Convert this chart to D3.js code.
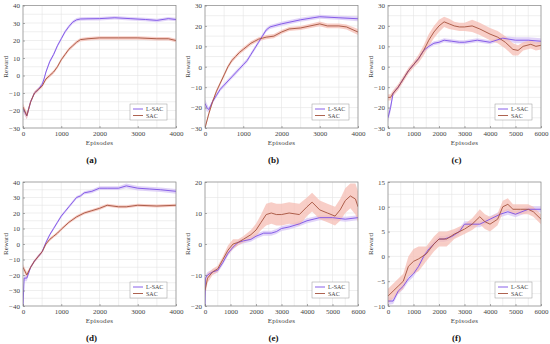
<!DOCTYPE html>
<html>
<head>
<meta charset="utf-8">
<script src="https://d3js.org/d3.v7.min.js"></script>
<style>
  body { margin: 0; background: #fff; }
  svg { display: block; }
  text { font-family: "Liberation Serif", "DejaVu Serif", serif; }
</style>
</head>
<body>
<script>
// episodes / reward
const seriesNames = ['L-SAC', 'SAC'];
const panelLabels = ['(a)', '(b)', '(c)', '(d)', '(e)', '(f)'];

// (a)
const aLx = [0, 100, 200, 300, 400, 500, 550, 600, 700, 800, 900, 1000, 1100, 1200, 1300, 1400, 1500, 1700, 2000, 2400, 2800, 3200, 3500, 3800, 4000];
const aL  = [-19, -23, -15, -10, -8, -5, -2, 2, 8, 12, 17, 21, 25, 28, 30.5, 31.8, 32.3, 32.4, 32.5, 33, 32.5, 32, 31.5, 32.5, 32];
const aLs = [2, 2, 1, 1, 1, 1, 1, 1, 1, 1, 1, 1, 1, 1, 1, 1, 1, 1, 1, 1, 1, 1, 1, 1, 1];
const aSx = [0, 100, 200, 300, 400, 500, 600, 700, 800, 900, 1000, 1100, 1200, 1300, 1400, 1500, 1700, 2000, 2500, 3000, 3500, 3800, 4000];
const aS  = [-18, -23, -15, -10, -8, -6, -2, 0, 2, 5, 9, 12, 15, 17, 19, 20.5, 21, 21.5, 21.5, 21.5, 21, 21, 20];
const aSs = [2, 2, 1, 1, 1, 1, 1, 1, 1, 1, 1, 1, 1, 1, 1, 1, 1, 1, 1, 1, 1, 1, 1];

// (b)
const bLx = [0, 50, 100, 200, 300, 400, 500, 600, 700, 800, 900, 1000, 1100, 1200, 1300, 1400, 1500, 1600, 1700, 1800, 2000, 2500, 3000, 3500, 4000];
const bL  = [-18, -20, -21, -17, -14, -11, -9, -7, -5, -3, -1, 1, 3, 6, 9, 12, 15, 18, 19.5, 20, 21, 23, 24.5, 24, 23.5];
const bLs = [2, 2, 1, 1, 1, 1, 1, 1, 1, 1, 1, 1, 1, 1, 1, 1, 1, 1, 1, 1, 1, 1, 1, 1, 1.2];
const bSx = [0, 100, 200, 300, 400, 500, 600, 700, 800, 900, 1000, 1100, 1200, 1300, 1400, 1500, 1600, 1800, 2000, 2200, 2500, 3000, 3200, 3500, 3700, 4000];
const bS  = [-30, -23, -17, -12, -8, -4, 0, 3, 5, 7, 8.5, 10, 11.5, 12.5, 13.5, 14, 14.5, 15, 17, 18.5, 19, 21, 20, 20, 19.5, 17];
const bSs = [1, 1, 1, 1, 1, 1, 1, 1, 1, 1, 1, 1, 1, 1, 1, 1, 1, 1, 1, 1, 1, 1.2, 1.2, 1.2, 1.2, 1.5];

// (c)
const cLx = [0, 100, 200, 400, 600, 800, 1000, 1200, 1400, 1600, 1800, 2000, 2200, 2500, 2800, 3000, 3500, 4000, 4500, 5000, 5500, 6000];
const cL  = [-25, -20, -13, -10, -6, -2, 1, 4, 8, 10, 11.5, 12, 13, 12.5, 12, 12, 13, 12, 14, 13, 13, 12.5];
const cLs = [2, 2, 1, 1, 1, 1, 1, 1, 1, 1, 1, 1, 1, 1, 1, 1, 1, 1, 1, 1.5, 1.5, 1.5];
const cSx = [0, 100, 200, 400, 600, 800, 1000, 1200, 1400, 1600, 1800, 2000, 2200, 2400, 2600, 2800, 3000, 3300, 3600, 4000, 4300, 4600, 4900, 5100, 5300, 5600, 5800, 6000];
const cS  = [-15, -15, -13, -10, -6, -2, 1, 4, 8, 13, 17, 20, 22, 21, 20, 19.5, 19.5, 20, 18.5, 16, 14.5, 12, 8.5, 8, 10, 11, 10, 10.5];
const cSs = [1.5, 1.5, 1.5, 1.5, 1.5, 1.5, 1.5, 2, 2.5, 3, 3, 3, 2.5, 2.5, 2, 2, 2, 3, 3, 3, 3, 3, 3, 2.5, 2, 2, 2, 2];

// (d)
const dLx = [0, 30, 100, 200, 300, 400, 500, 600, 700, 800, 900, 1000, 1100, 1200, 1300, 1400, 1500, 1600, 1800, 2000, 2200, 2500, 2700, 3000, 3300, 3600, 4000];
const dL  = [-40, -22, -22, -15, -11, -8, -5, 1, 6, 10, 14, 18, 21, 24, 27, 30, 31, 33, 34, 36, 36, 36, 37.5, 36, 35.5, 35, 34];
const dLs = [3, 2, 2, 1, 1, 1, 1, 1, 1, 1, 1, 1, 1, 1, 1, 1, 1, 1, 1.2, 1.2, 1.2, 1.2, 1.5, 1.5, 1.5, 1.5, 1.5];
const dSx = [0, 100, 200, 300, 400, 500, 600, 700, 800, 900, 1000, 1200, 1400, 1600, 1800, 2000, 2200, 2500, 2700, 3000, 3500, 4000];
const dS  = [-15, -20, -15, -11, -8, -5, 0, 3, 5, 7, 9.5, 14, 17.5, 20, 21.5, 23, 25, 24, 24, 25, 24.5, 25];
const dSs = [2, 2, 1, 1, 1, 1, 1, 1, 1, 1, 1, 1, 1, 1, 1, 1, 1, 1, 1, 1, 1, 1];

// (e)
const eLx = [0, 20, 100, 300, 500, 700, 900, 1100, 1300, 1500, 1800, 2000, 2300, 2600, 2800, 3000, 3300, 3700, 4000, 4500, 5000, 5500, 6000];
const eL  = [-20, -11, -10, -9, -8.5, -6, -3, -1, 0.5, 1, 1.5, 2.5, 3.5, 3.5, 4, 5, 5.5, 6.5, 7.5, 8.5, 8.5, 8, 8.5];
const eLs = [1, 1, 1, 0.8, 0.8, 0.8, 0.8, 0.8, 0.8, 0.8, 0.8, 0.8, 0.8, 0.8, 0.8, 0.8, 0.8, 0.8, 0.8, 0.8, 0.8, 0.8, 0.8];
const eSx = [0, 100, 300, 500, 700, 900, 1100, 1300, 1500, 1800, 2000, 2200, 2400, 2600, 2800, 3000, 3300, 3700, 4000, 4200, 4500, 4800, 5100, 5300, 5500, 5700, 5900, 6000];
const eS  = [-15, -11, -9, -8, -5, -2, 0, 0.5, 1.5, 3, 4.5, 7, 9.5, 10, 9.5, 9.5, 10, 9.5, 12, 13.5, 11, 10, 9, 11, 14, 15.5, 14.5, 12];
const eSs = [2, 1.5, 1, 1, 1, 1.5, 1.5, 1, 1, 1.5, 2, 2.5, 3.5, 3.5, 3.5, 3.5, 3.5, 3.5, 3, 3, 3, 3, 3, 3.5, 4, 4, 5, 5];

// (f)
const fLx = [0, 200, 400, 600, 800, 1000, 1200, 1400, 1600, 1800, 2000, 2200, 2500, 2800, 3000, 3300, 3600, 4000, 4400, 4700, 5000, 5500, 6000];
const fL  = [-9, -9, -7, -6, -4.5, -3.5, -2, 0, 1.5, 2.5, 3.5, 3.5, 4, 5, 6.5, 6.5, 6.5, 7.5, 8.5, 9, 8.5, 9.5, 9.5];
const fLs = [0.8, 0.6, 0.6, 0.6, 0.6, 0.6, 0.6, 0.6, 0.6, 0.6, 0.6, 0.6, 0.6, 0.6, 0.6, 0.6, 0.6, 0.6, 0.6, 0.6, 0.6, 0.6, 0.6];
const fSx = [0, 200, 400, 600, 800, 1000, 1200, 1500, 1800, 2000, 2300, 2600, 3000, 3300, 3600, 3800, 4000, 4300, 4500, 4700, 4900, 5200, 5500, 5700, 6000];
const fS  = [-8, -7, -6, -5, -2, -1, -0.5, 0.5, 2.5, 3.5, 3.5, 4.5, 5.5, 6.5, 8, 7, 6.5, 7.5, 10, 10.5, 9.5, 9.5, 9.5, 9, 7.5];
const fSs = [1.5, 1.5, 1.5, 1.5, 2, 2.5, 2.5, 1.5, 1.5, 1.5, 1.5, 1, 1, 1.2, 1.5, 1.5, 1.5, 1.2, 1.2, 1.2, 1, 1, 1, 1, 1];

const xMax = [4000, 4000, 6000, 4000, 6000, 6000];
const yTicks = [
  [-30, -20, -10, 0, 10, 20, 30, 40],
  [-30, -20, -10, 0, 10, 20, 30],
  [-30, -20, -10, 0, 10, 20, 30],
  [-40, -30, -20, -10, 0, 10, 20, 30, 40],
  [-20, -10, 0, 10, 20],
  [-10, -5, 0, 5, 10, 15]
];

const panelData = [
  [[aLx, aL, aLs], [aSx, aS, aSs]],
  [[bLx, bL, bLs], [bSx, bS, bSs]],
  [[cLx, cL, cLs], [cSx, cS, cSs]],
  [[dLx, dL, dLs], [dSx, dS, dSs]],
  [[eLx, eL, eLs], [eSx, eS, eSs]],
  [[fLx, fL, fLs], [fSx, fS, fSs]]
];

const lineColor = ['#7b4fe6', '#a5513c'];
const bandColor = ['#d7c6f6', '#f6bdb4'];

const svg = d3.select('body').append('svg').attr('width', 550).attr('height', 344);

const lefts = [23, 205, 388];
const rows = [{top: 5.5, bottom: 128}, {top: 182, bottom: 306}];
const pw = 153;

panelData.forEach((series, i) => {
  const col = i % 3, row = Math.floor(i / 3);
  const x0 = lefts[col], y0 = rows[row].top, h = rows[row].bottom - rows[row].top;
  const g = svg.append('g').attr('transform', `translate(${x0},${y0})`);
  const yt = yTicks[i];
  const step = (yt[1] - yt[0]);
  const x = d3.scaleLinear().domain([0, xMax[i]]).range([0, pw]);
  const y = d3.scaleLinear().domain([yt[0], yt[yt.length - 1]]).range([h, 0]);
  const xt = d3.range(0, xMax[i] + 1, 1000);

  // grid at every half-tick
  const gx = d3.range(0, xMax[i] + 1, 500);
  const gy = d3.range(yt[0], yt[yt.length - 1] + 0.001, step / 2);
  g.selectAll('.gx').data(gx).join('line')
    .attr('x1', d => x(d)).attr('x2', d => x(d)).attr('y1', 0).attr('y2', h)
    .attr('stroke', '#e4e4e4').attr('stroke-width', 0.6);
  g.selectAll('.gy').data(gy).join('line')
    .attr('y1', d => y(d)).attr('y2', d => y(d)).attr('x1', 0).attr('x2', pw)
    .attr('stroke', '#e4e4e4').attr('stroke-width', 0.6);

  const defs = svg.append('defs');
  defs.append('clipPath').attr('id', 'clip' + i).append('rect').attr('width', pw).attr('height', h);
  const plot = g.append('g').attr('clip-path', `url(#clip${i})`);

  series.forEach(([xs, ys, ss], k) => {
    const pts = xs.map((v, j) => ({x: v, y: ys[j], s: ss[j]}));
    plot.append('path').datum(pts)
      .attr('d', d3.area().x(d => x(d.x)).y0(d => y(d.y - d.s)).y1(d => y(d.y + d.s)))
      .attr('fill', bandColor[k]).attr('opacity', 0.75);
  });
  series.forEach(([xs, ys], k) => {
    const pts = xs.map((v, j) => ({x: v, y: ys[j]}));
    plot.append('path').datum(pts)
      .attr('d', d3.line().x(d => x(d.x)).y(d => y(d.y)))
      .attr('fill', 'none').attr('stroke', lineColor[k]).attr('stroke-width', 0.9);
  });

  // frame
  g.append('rect').attr('width', pw).attr('height', h)
    .attr('fill', 'none').attr('stroke', '#8a8a8a').attr('stroke-width', 0.7);

  // axes
  const xa = g.append('g').attr('transform', `translate(0,${h})`)
    .call(d3.axisBottom(x).tickValues(xt).tickSize(-2).tickPadding(3).tickFormat(d3.format('d')));
  const ya = g.append('g')
    .call(d3.axisLeft(y).tickValues(yt).tickSize(-2).tickPadding(3));
  [xa, ya].forEach(a => {
    a.select('.domain').remove();
    a.selectAll('line').attr('stroke', '#777').attr('stroke-width', 0.6);
    a.selectAll('text').attr('font-size', 7).attr('fill', '#444')
      .style('font-family', '"Liberation Serif", serif');
  });

  g.append('text').attr('transform', `translate(-15,${h / 2}) rotate(-90)`)
    .attr('text-anchor', 'middle').attr('font-size', 7).attr('fill', '#444').text('Reward');
  g.append('text').attr('x', pw / 2).attr('y', h + 17)
    .attr('text-anchor', 'middle').attr('font-size', 7).attr('fill', '#444')
    .attr('letter-spacing', 0.3).text('Episodes');
  g.append('text').attr('x', pw / 2 - 8).attr('y', h + 35)
    .attr('text-anchor', 'middle').attr('font-size', 9).attr('font-weight', 'bold')
    .attr('fill', '#111').text(panelLabels[i]);

  // legend
  const lg = g.append('g').attr('transform', `translate(${pw - 46},${h - 24})`);
  lg.append('rect').attr('width', 37).attr('height', 16)
    .attr('fill', '#fff').attr('stroke', '#999').attr('stroke-width', 0.5);
  seriesNames.forEach((n, k) => {
    lg.append('line').attr('x1', 3).attr('x2', 13).attr('y1', 5 + k * 6.5).attr('y2', 5 + k * 6.5)
      .attr('stroke', lineColor[k]).attr('stroke-width', 0.9);
    lg.append('text').attr('x', 16).attr('y', 7.3 + k * 6.5).attr('font-size', 6)
      .attr('fill', '#444').text(n);
  });
});
</script>
</body>
</html>
